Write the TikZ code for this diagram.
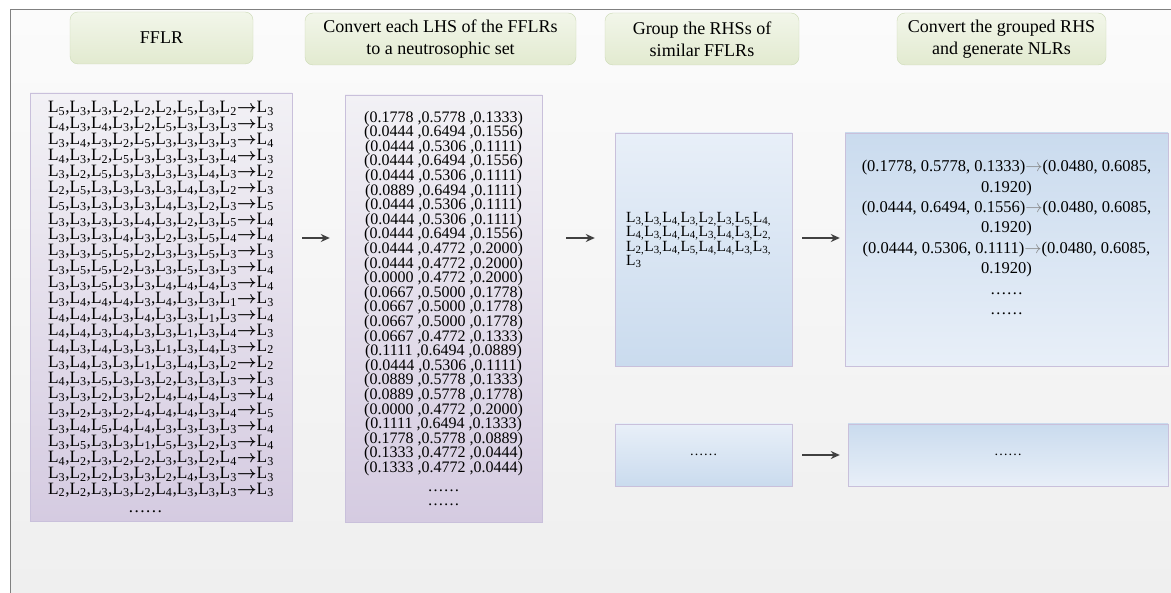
\documentclass[tikz,border=0pt]{standalone}
\usepackage{amsmath}
\usepackage{fontspec}
\setmainfont{Liberation Serif}
\usetikzlibrary{arrows.meta, positioning, calc}

\definecolor{frameline}{HTML}{808080}
\definecolor{paneltop}{HTML}{FBFBFB}
\definecolor{panelbot}{HTML}{EFEFEF}
\definecolor{headtop}{HTML}{F2F6EA}
\definecolor{headbot}{HTML}{E2EAD0}
\definecolor{headline}{HTML}{CCDAB5}
\definecolor{lilactop}{HTML}{F2F1F5}
\definecolor{lilacbot}{HTML}{D5CBE1}
\definecolor{lilacline}{HTML}{C9C0DB}
\definecolor{bluelight}{HTML}{E8EFF8}
\definecolor{bluedark}{HTML}{CADBEE}
\definecolor{arrowgray}{HTML}{404040}

\newcommand{\Ls}[1]{L\textsubscript{#1}}
\newcommand{\ffrow}[2]{\foreach \k [count=\i] in {#1}{\ifnum\i>1,\fi\Ls{\k}}$\boldsymbol{\rightarrow}$\Ls{#2}}
\newcommand{\nlrow}[1]{#1{\color{gray}$\rightarrow$}(0.0480, 0.6085,\\0.1920)}

\begin{document}
\lineskiplimit=-20pt
\begin{tikzpicture}[x=1pt, y=-1pt,
    head/.style={rectangle, rounded corners=8pt, draw=headline, top color=headtop, bottom color=headbot, minimum height=52, align=center, font=\fontsize{18}{22}\selectfont},
    lilac/.style={rectangle, draw=lilacline, top color=lilactop, bottom color=lilacbot, inner sep=0pt},
    bluedown/.style={rectangle, draw=lilacline, top color=bluelight, bottom color=bluedark, inner sep=0pt},
    blueup/.style={rectangle, draw=lilacline, top color=bluedark, bottom color=bluelight, inner sep=0pt},
    arrow/.style={-{Stealth[length=9pt,width=8pt]}, line width=1.5pt, draw=arrowgray}
]
\useasboundingbox (0,0) rectangle (1171,593);
\shade[top color=paneltop, bottom color=panelbot] (10,10) rectangle (1171,593);
\draw[frameline, line width=1pt] (1171,10) -- (10,10) -- (10,593);

% headings
\node[head, minimum width=183] (h1) at (161.5,38) {FFLR};
\node[head, minimum width=271] (h2) at (440.5,39) {Convert each LHS of the FFLRs\\to a neutrosophic set};
\node[head, minimum width=194] (h3) at (702,39) {Group the RHSs of\\similar FFLRs};
\node[head, minimum width=209] (h4) at (1001.5,39) {Convert the grouped RHS\\and generate NLRs};

% FFLR list
\node[lilac, minimum width=262, minimum height=428, align=left,
      font=\fontsize{17.3}{15.9}\selectfont] (fflr) at (161,307) {%
\ffrow{5,3,3,2,2,2,5,3,2}{3}\\
\ffrow{4,3,4,3,2,5,3,3,3}{3}\\
\ffrow{3,4,3,2,5,3,3,3,3}{4}\\
\ffrow{4,3,2,5,3,3,3,3,4}{3}\\
\ffrow{3,2,5,3,3,3,3,4,3}{2}\\
\ffrow{2,5,3,3,3,3,4,3,2}{3}\\
\ffrow{5,3,3,3,3,4,3,2,3}{5}\\
\ffrow{3,3,3,3,4,3,2,3,5}{4}\\
\ffrow{3,3,3,4,3,2,3,5,4}{4}\\
\ffrow{3,3,5,5,2,3,3,5,3}{3}\\
\ffrow{3,5,5,2,3,3,5,3,3}{4}\\
\ffrow{3,3,5,3,3,4,4,4,3}{4}\\
\ffrow{3,4,4,4,3,4,3,3,1}{3}\\
\ffrow{4,4,4,3,4,3,3,1,3}{4}\\
\ffrow{4,4,3,4,3,3,1,3,4}{3}\\
\ffrow{4,3,4,3,3,1,3,4,3}{2}\\
\ffrow{3,4,3,3,1,3,4,3,2}{2}\\
\ffrow{4,3,5,3,3,2,3,3,3}{3}\\
\ffrow{3,3,2,3,2,4,4,4,3}{4}\\
\ffrow{3,2,3,2,4,4,4,3,4}{5}\\
\ffrow{3,4,5,4,4,3,3,3,3}{4}\\
\ffrow{3,5,3,3,1,5,3,2,3}{4}\\
\ffrow{4,2,3,2,2,3,3,2,4}{3}\\
\ffrow{3,2,2,3,3,2,4,3,3}{3}\\
\ffrow{2,2,3,3,2,4,3,3,3}{3}\\[2pt]
\hspace*{80pt}……};

% neutrosophic sets
\node[lilac, minimum width=197, minimum height=427, align=center,
      font=\fontsize{16}{14.6}\selectfont] (neut) at (443.5,308.5) {%
(0.1778 ,0.5778 ,0.1333)\\
(0.0444 ,0.6494 ,0.1556)\\
(0.0444 ,0.5306 ,0.1111)\\
(0.0444 ,0.6494 ,0.1556)\\
(0.0444 ,0.5306 ,0.1111)\\
(0.0889 ,0.6494 ,0.1111)\\
(0.0444 ,0.5306 ,0.1111)\\
(0.0444 ,0.5306 ,0.1111)\\
(0.0444 ,0.6494 ,0.1556)\\
(0.0444 ,0.4772 ,0.2000)\\
(0.0444 ,0.4772 ,0.2000)\\
(0.0000 ,0.4772 ,0.2000)\\
(0.0667 ,0.5000 ,0.1778)\\
(0.0667 ,0.5000 ,0.1778)\\
(0.0667 ,0.5000 ,0.1778)\\
(0.0667 ,0.4772 ,0.1333)\\
(0.1111 ,0.6494 ,0.0889)\\
(0.0444 ,0.5306 ,0.1111)\\
(0.0889 ,0.5778 ,0.1333)\\
(0.0889 ,0.5778 ,0.1778)\\
(0.0000 ,0.4772 ,0.2000)\\
(0.1111 ,0.6494 ,0.1333)\\
(0.1778 ,0.5778 ,0.0889)\\
(0.1333 ,0.4772 ,0.0444)\\
(0.1333 ,0.4772 ,0.0444)\\[4pt]
……\\
……};

% grouped RHS
\node[bluedown, minimum width=177, minimum height=233] (grp) at (703.5,249.5) {};
\node[anchor=west, align=left, inner sep=0pt,
      font=\fontsize{15.5}{14.3}\selectfont] (grptext) at (626,240) {%
\Ls{3,}\Ls{3,}\Ls{4,}\Ls{3,}\Ls{2,}\Ls{3,}\Ls{5,}\Ls{4,}\\
\Ls{4,}\Ls{3,}\Ls{4,}\Ls{4,}\Ls{3,}\Ls{4,}\Ls{3,}\Ls{2,}\\
\Ls{2,}\Ls{3,}\Ls{4,}\Ls{5,}\Ls{4,}\Ls{4,}\Ls{3,}\Ls{3,}\\
\Ls{3}};

% NLRs
\node[blueup, minimum width=323, minimum height=233, align=center,
      font=\fontsize{16.5}{20.4}\selectfont] (nlr) at (1006.5,249.5) {%
\nlrow{(0.1778, 0.5778, 0.1333)}\\
\nlrow{(0.0444, 0.6494, 0.1556)}\\
\nlrow{(0.0444, 0.5306, 0.1111)}\\
……\\
……\\[4pt]};

\node[bluedown, minimum width=177, minimum height=62, font=\fontsize{14}{16}\selectfont] (grp2) at (703.5,455) {……};
\node[blueup, minimum width=320, minimum height=62, font=\fontsize{14}{16}\selectfont] (nlr2) at (1008,455) {……};

% arrows
\coordinate (row) at (0,238);
\draw[arrow, shorten <=10pt, shorten >=15pt] (fflr.east |- row) -- (neut.west |- row);
\draw[arrow, shorten <=24pt, shorten >=20pt] (neut.east |- row) -- (grp.west |- row);
\draw[arrow, shorten <=10pt, shorten >=5pt] (grp.east |- row) -- (nlr.west |- row);
\draw[arrow, shorten <=10pt, shorten >=8pt] (grp2) -- (nlr2);
\end{tikzpicture}
\end{document}
